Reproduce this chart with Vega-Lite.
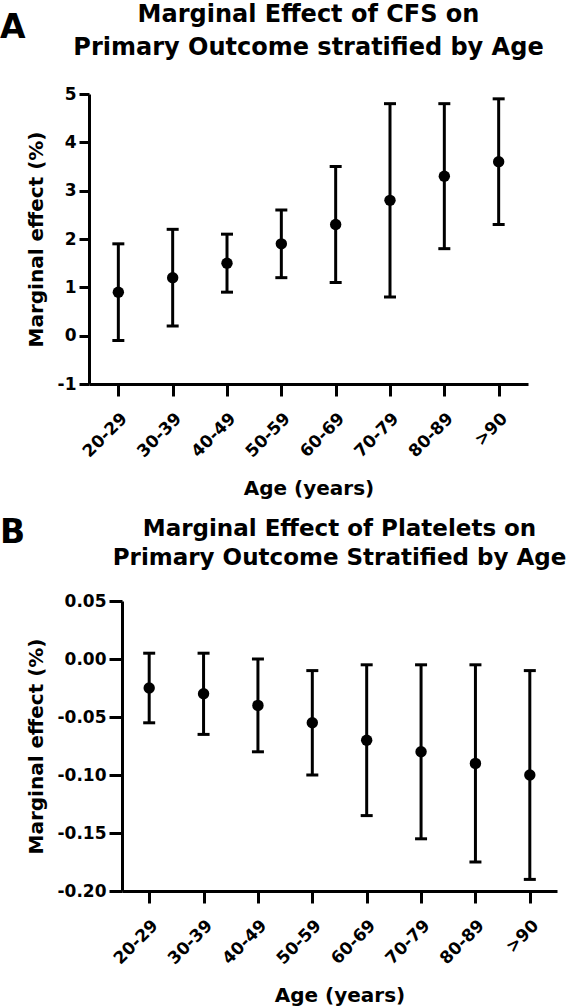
{
  "$schema": "https://vega.github.io/schema/vega-lite/v6.json",
  "padding": {"top": 3, "left": 0, "right": 0, "bottom": 0},
  "spacing": 18,
  "config": {
    "view": {"stroke": null},
    "font": "DejaVu Sans",
    "axis": {
      "domainColor": "black", "domainWidth": 3, "tickColor": "black", "tickWidth": 3, "tickSize": 10,
      "labelColor": "black", "labelFont": "DejaVu Sans", "labelFontWeight": "bold", "labelFontSize": 17,
      "titleColor": "black", "titleFont": "DejaVu Sans", "titleFontWeight": "bold", "titleFontSize": 20,
      "grid": false, "labelPadding": 3
    },
    "title": {"color": "black", "font": "DejaVu Sans", "fontWeight": "bold"}
  },
  "vconcat": [
    {
      "spacing": 0,
      "hconcat": [
        {
          "title": {"text": "A", "anchor": "start", "frame": "group", "fontSize": 33, "offset": 23, "baseline": "alphabetic"},
          "width": 1, "height": 1,
          "data": {"values": []},
          "mark": {"type": "point", "opacity": 0}
        },
        {
          "title": {"text": ["Marginal Effect of CFS on", "Primary Outcome stratified by Age"], "fontSize": 24, "lineHeight": 33, "frame": "group", "anchor": "middle", "offset": 25},
          "width": 439,
          "height": 290,
          "data": {"values": [
            {"age": "20-29", "est": 0.9, "lo": -0.1, "hi": 1.9},
            {"age": "30-39", "est": 1.2, "lo": 0.2, "hi": 2.2},
            {"age": "40-49", "est": 1.5, "lo": 0.9, "hi": 2.1},
            {"age": "50-59", "est": 1.9, "lo": 1.2, "hi": 2.6},
            {"age": "60-69", "est": 2.3, "lo": 1.1, "hi": 3.5},
            {"age": "70-79", "est": 2.8, "lo": 0.8, "hi": 4.8},
            {"age": "80-89", "est": 3.3, "lo": 1.8, "hi": 4.8},
            {"age": ">90", "est": 3.6, "lo": 2.3, "hi": 4.9}
          ]},
          "encoding": {
            "x": {"field": "age", "type": "nominal", "sort": null, "scale": {"type": "point", "padding": 0.54},
              "axis": {"title": "Age (years)", "labelAngle": -45, "labelPadding": 14, "titlePadding": 19, "tickSize": 12}}
          },
          "layer": [
            {"mark": {"type": "rule", "strokeWidth": 3, "color": "black"},
             "encoding": {
               "y": {"field": "lo", "type": "quantitative", "title": "Marginal effect (%)", "scale": {"domain": [-1, 5], "nice": false, "zero": false},
                 "axis": {"values": [-1, 0, 1, 2, 3, 4, 5], "labelExpr": "replace(datum.label, '\u2212', '-')", "titlePadding": 11}},
               "y2": {"field": "hi"}}},
            {"mark": {"type": "tick", "thickness": 3, "size": 12, "color": "black", "opacity": 1},
             "encoding": {"y": {"field": "lo", "type": "quantitative", "title": "Marginal effect (%)", "scale": {"domain": [-1, 5], "nice": false, "zero": false}}}},
            {"mark": {"type": "tick", "thickness": 3, "size": 12, "color": "black", "opacity": 1},
             "encoding": {"y": {"field": "hi", "type": "quantitative", "title": "Marginal effect (%)", "scale": {"domain": [-1, 5], "nice": false, "zero": false}}}},
            {"mark": {"type": "circle", "size": 130, "color": "black", "opacity": 1},
             "encoding": {"y": {"field": "est", "type": "quantitative", "title": "Marginal effect (%)", "scale": {"domain": [-1, 5], "nice": false, "zero": false}}}}
          ]
        }
      ]
    },
    {
      "spacing": 0,
      "hconcat": [
        {
          "title": {"text": "B", "anchor": "start", "frame": "group", "fontSize": 33, "offset": 25, "baseline": "alphabetic"},
          "width": 1, "height": 1,
          "data": {"values": []},
          "mark": {"type": "point", "opacity": 0}
        },
        {
          "title": {"text": ["\u00a0\u00a0\u00a0\u00a0Marginal Effect of Platelets on", "Primary Outcome Stratified by Age"], "fontSize": 23, "lineHeight": 29, "frame": "group", "anchor": "middle", "offset": 22},
          "width": 435,
          "height": 290,
          "data": {"values": [
            {"age": "20-29", "est": -0.025, "lo": -0.055, "hi": 0.005},
            {"age": "30-39", "est": -0.03, "lo": -0.065, "hi": 0.005},
            {"age": "40-49", "est": -0.04, "lo": -0.08, "hi": 0.0},
            {"age": "50-59", "est": -0.055, "lo": -0.1, "hi": -0.01},
            {"age": "60-69", "est": -0.07, "lo": -0.135, "hi": -0.005},
            {"age": "70-79", "est": -0.08, "lo": -0.155, "hi": -0.005},
            {"age": "80-89", "est": -0.09, "lo": -0.175, "hi": -0.005},
            {"age": ">90", "est": -0.1, "lo": -0.19, "hi": -0.01}
          ]},
          "encoding": {
            "x": {"field": "age", "type": "nominal", "sort": null, "scale": {"type": "point", "padding": 0.5},
              "axis": {"title": "Age (years)", "labelAngle": -45, "labelPadding": 14, "titlePadding": 19, "tickSize": 12}}
          },
          "layer": [
            {"mark": {"type": "rule", "strokeWidth": 3, "color": "black"},
             "encoding": {
               "y": {"field": "lo", "type": "quantitative", "title": "Marginal effect (%)", "scale": {"domain": [-0.2, 0.05], "nice": false, "zero": false},
                 "axis": {"values": [-0.2, -0.15, -0.1, -0.05, 0, 0.05], "format": ".2f", "labelExpr": "replace(datum.label, '\u2212', '-')", "titlePadding": 11, "tickSize": 13}},
               "y2": {"field": "hi"}}},
            {"mark": {"type": "tick", "thickness": 3, "size": 12, "color": "black", "opacity": 1},
             "encoding": {"y": {"field": "lo", "type": "quantitative", "title": "Marginal effect (%)", "scale": {"domain": [-0.2, 0.05], "nice": false, "zero": false}}}},
            {"mark": {"type": "tick", "thickness": 3, "size": 12, "color": "black", "opacity": 1},
             "encoding": {"y": {"field": "hi", "type": "quantitative", "title": "Marginal effect (%)", "scale": {"domain": [-0.2, 0.05], "nice": false, "zero": false}}}},
            {"mark": {"type": "circle", "size": 130, "color": "black", "opacity": 1},
             "encoding": {"y": {"field": "est", "type": "quantitative", "title": "Marginal effect (%)", "scale": {"domain": [-0.2, 0.05], "nice": false, "zero": false}}}}
          ]
        }
      ]
    }
  ]
}
